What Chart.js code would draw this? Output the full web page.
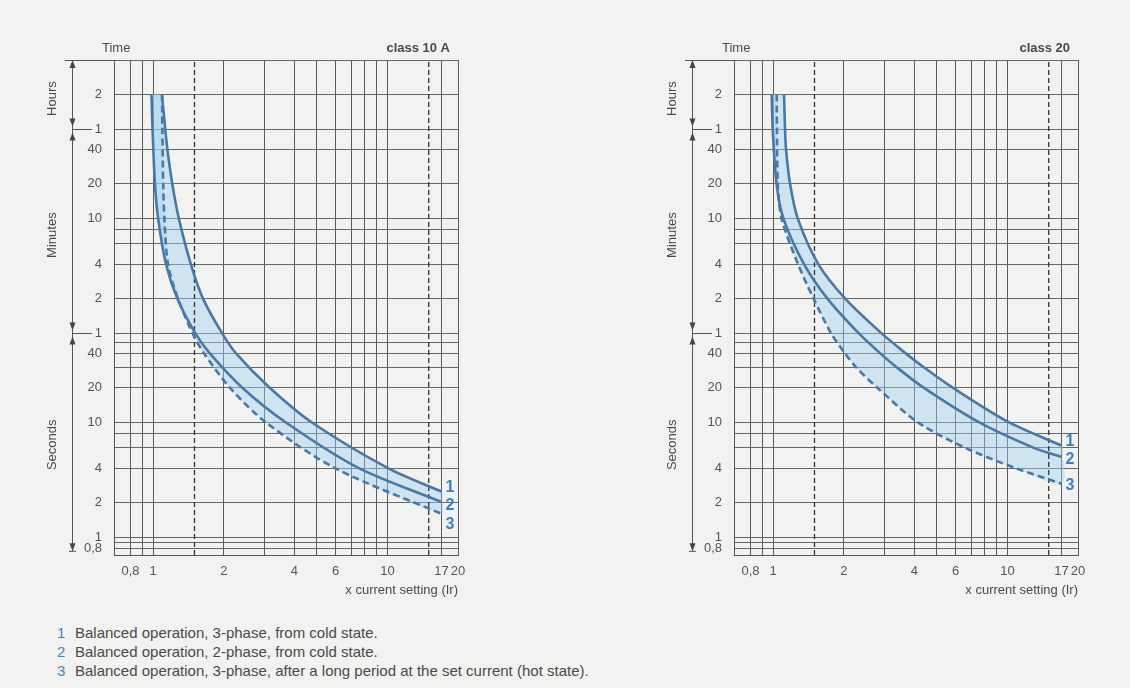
<!DOCTYPE html>
<html>
<head>
<meta charset="utf-8">
<script src="https://cdn.jsdelivr.net/npm/chart.js@4.4.1/dist/chart.umd.min.js"></script>
<style>
html,body{margin:0;padding:0;background:#f2f2f0;width:1130px;height:688px;overflow:hidden;font-family:"Liberation Sans",Arial,sans-serif;}
#c1{position:absolute;left:0;top:0;}
#c2{position:absolute;left:620px;top:0;}
.notes{position:absolute;left:57px;top:623px;font-size:15px;line-height:19px;color:#4a4a4a;white-space:nowrap;}
.notes b{color:#3d86c6;font-weight:normal;display:inline-block;width:18px;}
</style>
</head>
<body>
<canvas id="c1" width="520" height="600"></canvas>
<canvas id="c2" width="510" height="600"></canvas>
<div class="notes">
<div><b>1</b>Balanced operation, 3-phase, from cold state.</div>
<div><b>2</b>Balanced operation, 2-phase, from cold state.</div>
<div><b>3</b>Balanced operation, 3-phase, after a long period at the set current (hot state).</div>
</div>
<script>
// ---- axes ----
const X_MIN = 0.68, X_MAX = 20, Y_MIN = 0.7, Y_MAX = 14400;
const xGridValues = [0.8, 0.9, 1, 2, 3, 4, 5, 6, 7, 8, 9, 10, 17, 20];
const xLabelValues = [0.8, 1, 2, 4, 6, 10, 17, 20];
const xLabelTexts = ['0,8', '1', '2', '4', '6', '10', '17', '20'];
const yGridSeconds = [14400, 7200, 3600, 2400, 1200, 600, 480, 360, 240, 120, 60, 50, 40, 30, 20, 10, 8, 6, 4, 2, 1, 0.9, 0.8];
const yLabelSeconds = [7200, 3600, 2400, 1200, 600, 240, 120, 60, 40, 20, 10, 4, 2, 1, 0.8];
const yLabelTexts = ['2', '1', '40', '20', '10', '4', '2', '1', '40', '20', '10', '4', '2', '1', '0,8'];
const dashedX = [1.5, 15];
const rangeBreaks = [3600, 60];
const rangeNames = ['Hours', 'Minutes', 'Seconds'];
const curveNames = ['1', '2', '3'];

// ---- class 10 A : tripping time (s) vs multiple of Ir ----
const c10_t1 = [7200, 3600, 2400, 1200, 600, 240, 120, 60, 40, 20, 10, 4, 2.5];
const c10_x1 = [1.090, 1.125, 1.149, 1.206, 1.286, 1.447, 1.631, 1.966, 2.256, 3.151, 4.762, 10.05, 17];
const c10_t2 = [7200, 3600, 1200, 600, 240, 120, 60, 40, 20, 10, 4, 2.03];
const c10_x2 = [0.983, 0.993, 1.017, 1.049, 1.133, 1.267, 1.511, 1.744, 2.407, 3.684, 7.55, 17];
const c10_t3 = [7200, 3600, 1200, 600, 240, 120, 60, 40, 20, 10, 4, 1.6];
const c10_x3 = [1.090, 1.094, 1.103, 1.116, 1.156, 1.276, 1.471, 1.647, 2.127, 3.030, 5.969, 17];

// ---- class 20 ----
const c20_t1 = [7200, 3600, 2400, 1200, 600, 240, 120, 60, 40, 30, 20, 10, 6.3];
const c20_x1 = [1.112, 1.123, 1.134, 1.180, 1.272, 1.557, 2.029, 2.895, 3.680, 4.419, 5.859, 10.17, 17];
const c20_t2 = [7200, 3600, 1200, 600, 240, 120, 60, 40, 30, 20, 10, 6, 5];
const c20_x2 = [0.985, 0.995, 1.033, 1.105, 1.353, 1.704, 2.315, 2.864, 3.382, 4.398, 7.58, 12.96, 17];
const c20_t3 = [7200, 3600, 1200, 600, 240, 120, 60, 40, 30, 20, 10, 6, 4, 2.93];
const c20_x3 = [1.035, 1.037, 1.046, 1.085, 1.276, 1.486, 1.765, 2.025, 2.267, 2.787, 4.151, 6.619, 10.82, 17];

const FONT = '"Liberation Sans", Arial, sans-serif';
Chart.defaults.font.family = FONT;
const LINE = '#4a78a6';
const BAND = 'rgba(160,210,242,0.42)';
const TXT = '#4a4a4a';

function pts(xs, ts) { return xs.map((x, i) => ({x: x, y: ts[i]})); }

const deco = {
  id: 'deco',
  afterDraw(chart, args, opts) {
    const ctx = chart.ctx, a = chart.chartArea, y = chart.scales.y, x = chart.scales.x;
    ctx.save();
    ctx.fillStyle = TXT; ctx.strokeStyle = '#555'; ctx.lineWidth = 1;
    ctx.textBaseline = 'middle';
    ctx.font = '13px ' + FONT;
    ctx.textAlign = 'left';
    ctx.fillText('Time', a.left - 12, a.top - 12);
    ctx.font = 'bold 13px ' + FONT;
    ctx.textAlign = 'right';
    ctx.fillText(opts.title, a.right - 8, a.top - 12);
    const bx = a.left - 42;
    const seg = (x1, y1, x2, y2) => { ctx.beginPath(); ctx.moveTo(x1, y1); ctx.lineTo(x2, y2); ctx.stroke(); };
    const tri = (px, py, dir) => { ctx.beginPath(); ctx.moveTo(px, py); ctx.lineTo(px - 3, py - dir * 8); ctx.lineTo(px + 3, py - dir * 8); ctx.closePath(); ctx.fill(); };
    seg(bx - 7, a.top + 0.5, a.left, a.top + 0.5);
    const yB = y.getPixelForValue(0.8) + 3;
    seg(bx + 0.5, a.top, bx + 0.5, yB);
    ctx.fillStyle = '#444';
    tri(bx + 0.5, a.top, -1);
    tri(bx + 0.5, yB, 1);
    seg(bx - 3, yB, bx + 4, yB);
    rangeBreaks.forEach(s => {
      const py = Math.round(y.getPixelForValue(s)) + 0.5;
      seg(bx, py, a.left - 22, py);
      tri(bx + 0.5, py - 3, 1);
      tri(bx + 0.5, py + 3, -1);
    });
    const stops = [a.top, y.getPixelForValue(rangeBreaks[0]), y.getPixelForValue(rangeBreaks[1]), y.getPixelForValue(0.8)];
    ctx.fillStyle = TXT;
    ctx.font = '13px ' + FONT;
    ctx.textAlign = 'center';
    rangeNames.forEach((n, i) => {
      ctx.save();
      ctx.translate(a.left - 62, (stops[i] + stops[i + 1]) / 2 + 4);
      ctx.rotate(-Math.PI / 2);
      ctx.fillText(n, 0, 0);
      ctx.restore();
    });
    ctx.textAlign = 'right';
    ctx.fillText('x current setting (Ir)', a.right, a.bottom + 35);
    ctx.font = 'bold 16px ' + FONT;
    ctx.fillStyle = '#3d7fc2';
    ctx.textAlign = 'left';
    const ends = [0, 1, 2].map(i => {
      const d = chart.data.datasets[i].data; const p = d[d.length - 1];
      return {x: x.getPixelForValue(p.x), y: y.getPixelForValue(p.y)};
    });
    const ly1 = ends[0].y - 4;
    const ly2 = Math.max(ends[1].y + 2, ly1 + 18);
    const ly3 = Math.max(ends[2].y + 2, ly2 + 19);
    [ly1, ly2, ly3].forEach((ly, i) => ctx.fillText(curveNames[i], ends[i].x + 4, ly));
    ctx.restore();
  }
};

function makeChart(id, title, c1, c2, c3) {
  const cv = document.getElementById(id);
  const W = cv.width;
  const p1 = pts(c1[0], c1[1]), p2 = pts(c2[0], c2[1]), p3 = pts(c3[0], c3[1]);
  const curve = {borderColor: LINE, borderWidth: 2.6, tension: 0.3, pointRadius: 0, fill: false, order: 0, borderJoinStyle: 'round'};
  const datasets = [
    Object.assign({data: p1}, curve),
    Object.assign({data: p2}, curve),
    Object.assign({data: p3, borderDash: [7, 4]}, curve)
  ];
  dashedX.forEach(v => datasets.push({data: [{x: v, y: Y_MIN}, {x: v, y: Y_MAX}], borderColor: '#333', borderWidth: 1.3, borderDash: [5, 3], pointRadius: 0, fill: false, order: 1}));
  datasets.push({data: p2.concat(p1.slice().reverse()), borderColor: 'rgba(0,0,0,0)', borderWidth: 0, backgroundColor: BAND, tension: 0.3, pointRadius: 0, fill: 'shape', order: 2});
  datasets.push({data: p3.concat(p2.slice().reverse()), borderColor: 'rgba(0,0,0,0)', borderWidth: 0, backgroundColor: BAND, tension: 0.3, pointRadius: 0, fill: 'shape', order: 2});
  return new Chart(cv, {
    type: 'line',
    data: {datasets: datasets},
    options: {
      responsive: false, animation: false, devicePixelRatio: 1,
      layout: {padding: {left: 0, top: 60, right: W - 458, bottom: 0}},
      plugins: {legend: {display: false}, tooltip: {enabled: false}, deco: {title: title}},
      scales: {
        x: {
          type: 'logarithmic', min: X_MIN, max: X_MAX,
          afterBuildTicks: s => { s.ticks = xGridValues.map(v => ({value: v})); },
          afterFit: s => { s.height = 45; },
          ticks: {autoSkip: false, maxRotation: 0, minRotation: 0, padding: 9, color: '#555', font: {size: 13},
            callback: v => { const i = xLabelValues.indexOf(v); return i >= 0 ? xLabelTexts[i] : ''; }},
          grid: {color: '#5a5a5a', lineWidth: 1, drawTicks: false},
          border: {color: '#555'}
        },
        y: {
          type: 'logarithmic', min: Y_MIN, max: Y_MAX,
          afterBuildTicks: s => { s.ticks = yGridSeconds.map(v => ({value: v})); },
          afterFit: s => { s.width = 114; },
          ticks: {autoSkip: false, padding: 12, color: '#555', font: {size: 13},
            callback: v => { const i = yLabelSeconds.indexOf(v); return i < 0 ? '' : yLabelTexts[i]; }},
          grid: {color: '#666', lineWidth: 1, drawTicks: false},
          border: {color: '#555'}
        }
      }
    },
    plugins: [deco]
  });
}

makeChart('c1', 'class 10 A', [c10_x1, c10_t1], [c10_x2, c10_t2], [c10_x3, c10_t3]);
makeChart('c2', 'class 20', [c20_x1, c20_t1], [c20_x2, c20_t2], [c20_x3, c20_t3]);
</script>
</body>
</html>
